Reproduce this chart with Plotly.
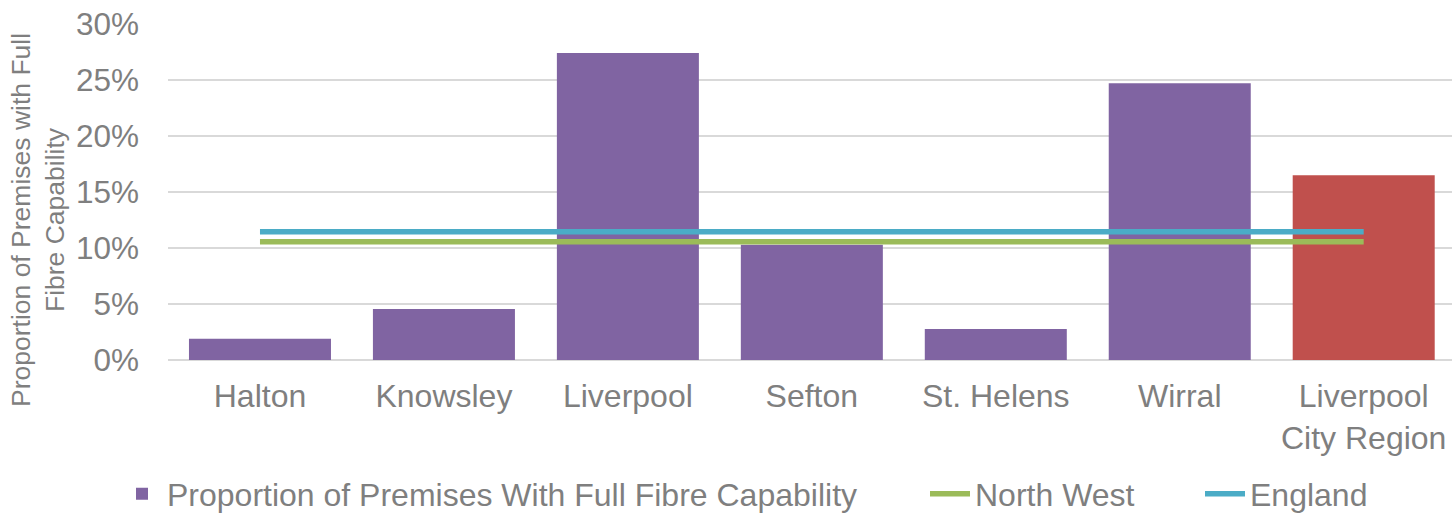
import plotly.graph_objects as go

categories = ["Halton", "Knowsley", "Liverpool", "Sefton", "St. Helens", "Wirral", "Liverpool<br>City Region"]
full_fibre = [0.019, 0.0455, 0.274, 0.103, 0.0277, 0.247, 0.165]
north_west = [0.1056] * 7
england = [0.1145] * 7
y_ticks = [0, 0.05, 0.10, 0.15, 0.20, 0.25, 0.30]
y_tick_labels = ["0%", "5%", "10%", "15%", "20%", "25%", "30%"]

bar_colors = ["#8064A2"] * 6 + ["#C0504D"]
FONT = "Liberation Sans, Arial, sans-serif"
GREY = "#7F7F7F"
W = 1452

fig = go.Figure()
fig.add_trace(go.Bar(
    x=categories, y=full_fibre, name="Proportion of Premises With Full Fibre Capability",
    marker=dict(color=bar_colors, line=dict(width=0)), legend="legend",
))
fig.add_trace(go.Scatter(
    x=categories, y=north_west, name="North West", mode="lines",
    line=dict(color="#9BBB59", width=5.5), legend="legend2",
))
fig.add_trace(go.Scatter(
    x=categories, y=england, name="England", mode="lines",
    line=dict(color="#4BACC6", width=5.5), legend="legend3",
))


def leg(text_start):
    return dict(
        orientation="h", xref="container", yref="container",
        x=(text_start - 50) / W, xanchor="left", y=0.037, yanchor="middle",
        font=dict(family=FONT, size=32, color=GREY),
        itemwidth=40, bgcolor="rgba(0,0,0,0)",
    )


fig.update_layout(
    width=W, height=513,
    margin=dict(l=168, r=0, t=24, b=153),
    paper_bgcolor="white", plot_bgcolor="white",
    font=dict(family=FONT, size=32, color=GREY),
    bargap=0.228,
    showlegend=True,
    legend=leg(167), legend2=leg(975), legend3=leg(1250),
    annotations=[dict(
        text="Proportion of Premises with Full<br>Fibre Capability",
        textangle=-90, xref="paper", yref="paper",
        x=(38 - 168) / 1284, y=(360 - 220) / 336,
        xanchor="center", yanchor="middle", showarrow=False,
        font=dict(family=FONT, size=26.5, color=GREY),
    )],
)
fig.update_xaxes(
    range=[-0.5, 6.48],
    showgrid=False, showline=False, ticks="",
    tickfont=dict(family=FONT, size=32, color=GREY),
    ticklabelstandoff=14,
)
fig.update_yaxes(
    range=[0, 0.30], tickvals=y_ticks, ticktext=y_tick_labels,
    showgrid=True, gridcolor="#D9D9D9", gridwidth=2,
    zeroline=True, zerolinecolor="#D9D9D9", zerolinewidth=2,
    showline=False, ticks="",
    tickfont=dict(family=FONT, size=31.5, color=GREY),
    ticklabelstandoff=28,
)

fig.write_html("out.html")
